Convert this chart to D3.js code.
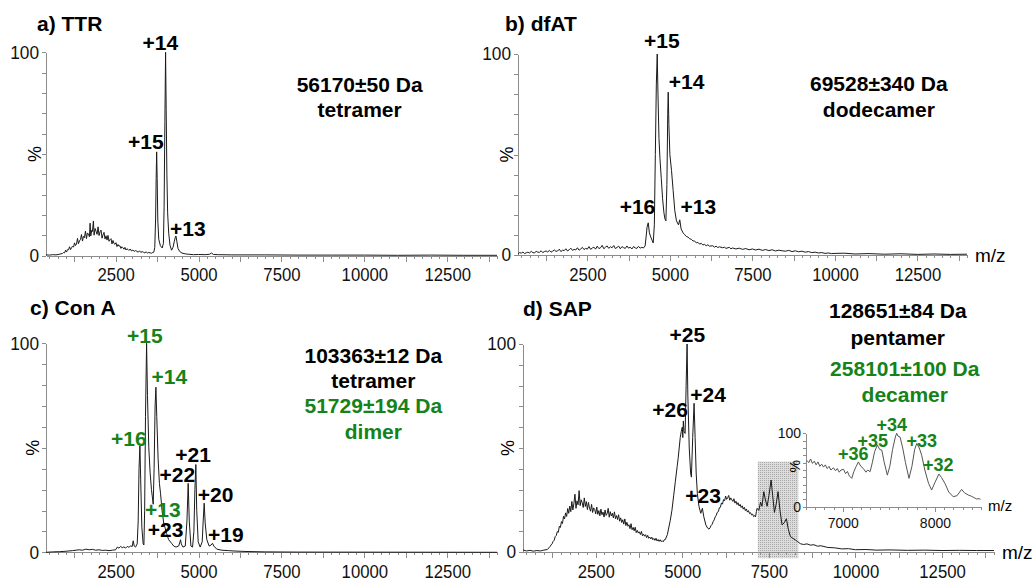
<!DOCTYPE html>
<html>
<head>
<meta charset="utf-8">
<script src="https://cdn.jsdelivr.net/npm/d3@7/dist/d3.min.js"></script>
<style>
body { margin: 0; background: #fff; }
svg { display: block; font-family: "Liberation Sans", Arial, sans-serif; }
.axis path, .axis line { stroke: #8c8c8c; shape-rendering: crispEdges; }
.axis text { font-size: 18px; fill: #111; }
.inset .axis text { font-size: 14px; }
.trace { fill: none; stroke: #1a1a1a; stroke-width: 1; stroke-linejoin: round; }
.lbl { font-weight: bold; font-size: 21px; text-anchor: middle; fill: #000; }
.small { font-size: 18px; }
</style>
</head>
<body>
<script>
var W = 1034, H = 582;
var green = "#15821a";

// spectra, [m/z, relative intensity %]
var ttrSpec = [[400,0.3],[500,0.2],[600,0.4],[700,0.3],[800,0.6],[900,1.0],[930,1.5],[960,1.3],[990,2.6],[1020,1.7],
  [1050,2.9],[1080,2.8],[1110,4.3],[1140,2.9],[1170,3.8],[1200,4.6],[1230,4.1],[1260,6.2],[1290,4.9],[1320,5.6],
  [1350,8.4],[1380,5.8],[1410,7.2],[1440,7.9],[1470,10.3],[1500,7.1],[1530,9.4],[1560,8.8],[1590,12.0],[1620,8.3],
  [1650,11.1],[1680,10.5],[1710,9.2],[1730,15.9],[1750,9.6],[1780,12.4],[1800,11.8],[1830,17.0],[1850,10.0],[1880,13.3],
  [1910,11.9],[1940,10.4],[1970,14.1],[2000,9.8],[2030,11.7],[2060,12.5],[2090,8.5],[2120,10.2],[2150,11.4],[2180,8.1],
  [2210,9.7],[2240,7.6],[2270,9.9],[2300,7.0],[2330,7.8],[2360,8.3],[2390,5.7],[2420,7.4],[2450,5.9],[2480,5.5],
  [2510,6.3],[2540,4.4],[2570,5.4],[2600,4.6],[2630,4.8],[2660,3.5],[2690,4.3],[2720,3.8],[2750,3.1],[2780,4.0],
  [2810,2.7],[2840,3.3],[2870,3.0],[2900,2.5],[2940,3.2],[2980,2.2],[3020,2.7],[3060,2.0],[3100,2.4],[3140,2.1],
  [3180,1.6],[3220,2.3],[3260,1.5],[3300,1.9],[3340,1.6],[3380,1.3],[3420,1.8],[3460,1.2],[3500,1.5],[3540,1.3],
  [3580,1.1],[3620,1.5],[3650,1.6],[3680,4],[3705,18],[3722,38],[3737,51],[3752,38],[3772,17],[3800,8],
  [3850,4.8],[3905,3.7],[3940,6],[3962,24],[3985,66],[4006,100],[4024,72],[4045,40],[4068,21],[4100,11],
  [4140,5],[4187,2.6],[4230,4],[4270,7],[4300,9],[4318,9.6],[4345,7],[4380,3.5],[4430,2],[4500,1.2],
  [4600,0.8],[4700,0.6],[4850,0.4],[5000,0.5],[5200,0.4],[5330,0.6],[5390,1.2],[5450,0.5],[5600,0.4],[6000,0.3],
  [7000,0.3],[8000,0.2],[9000,0.2],[10000,0.2],[11000,0.1],[12000,0.2],[13000,0.1],[14000,0.1]];

var dfatSpec = [[400,0.6],[450,1.2],[500,0.9],[550,1.5],[600,0.7],[650,1.1],[700,1.4],[750,1.0],[800,1.8],[850,1.2],
  [900,1.0],[950,1.9],[1000,1.4],[1050,1.3],[1100,2.1],[1150,1.2],[1200,1.7],[1250,2.0],[1300,1.5],[1350,2.3],
  [1400,1.4],[1450,1.9],[1500,2.5],[1550,1.8],[1600,2.0],[1650,2.9],[1700,1.7],[1750,2.4],[1800,2.2],[1850,3.1],
  [1900,2.0],[1950,2.6],[2000,3.4],[2050,2.3],[2100,2.8],[2150,2.5],[2200,3.6],[2250,2.4],[2300,3.0],[2350,3.8],
  [2400,2.7],[2450,3.3],[2500,2.9],[2550,4.2],[2600,2.8],[2650,3.5],[2700,3.9],[2750,2.9],[2800,4.4],[2850,3.2],
  [2900,3.6],[2950,4.8],[3000,3.1],[3050,3.9],[3100,4.5],[3150,3.3],[3200,4.1],[3250,3.6],[3300,4.7],[3350,3.2],
  [3400,3.8],[3450,4.4],[3500,3.1],[3550,4.2],[3600,3.6],[3650,3.3],[3700,4.5],[3750,3.4],[3800,3.9],[3850,3.0],
  [3900,4.2],[3950,3.5],[4000,3.3],[4050,4.3],[4100,3.4],[4150,3.8],[4200,3.5],[4250,4.5],[4280,9],[4310,14],
  [4345,16],[4380,11],[4420,9],[4470,7],[4495,6],[4530,15],[4560,50],[4590,85],[4617,100],[4640,80],
  [4670,58],[4700,48],[4740,38],[4780,28],[4820,21],[4850,18],[4880,17],[4910,35],[4935,70],[4950,81],
  [4970,65],[5000,50],[5050,42],[5100,32],[5150,22],[5200,17],[5260,15],[5300,17.5],[5340,13],[5400,11],
  [5450,10.1],[5500,9.2],[5550,8.9],[5600,8.1],[5650,7.8],[5700,7.0],[5750,6.9],[5800,6.1],[5850,6.3],[5900,5.4],
  [5950,5.8],[6000,5.0],[6050,5.3],[6100,4.6],[6150,5.1],[6200,4.4],[6300,4.6],[6350,3.9],[6400,4.4],[6450,3.7],
  [6500,4.1],[6600,3.6],[6650,3.9],[6700,3.3],[6800,3.8],[6850,3.1],[6900,3.5],[7000,3.0],[7100,3.4],[7200,2.8],
  [7300,3.2],[7400,2.6],[7500,3.0],[7600,2.5],[7700,2.9],[7800,2.3],[7900,2.7],[8000,2.2],[8100,2.6],[8200,2.0],
  [8300,2.4],[8400,2.1],[8500,1.9],[8600,2.3],[8700,1.7],[8800,2.1],[8900,1.6],[9000,1.9],[9100,1.4],[9200,1.7],
  [9300,1.2],[9400,1.4],[9500,1.0],[9600,1.2],[9700,0.8],[9800,1.0],[9900,0.7],[10000,0.8],[10300,0.9],[10600,0.5],
  [11000,0.7],[11500,0.4],[12000,0.6],[12500,0.3],[13000,0.5],[13500,0.3],[14000,0.4]];

var conaSpec = [[400,0],[600,0.2],[800,0.3],[1000,0.5],[1200,0.8],[1400,1.2],[1500,1.0],[1600,1.5],[1700,1.2],[1800,1.4],
  [1900,1.0],[2000,1.2],[2100,0.9],[2200,1.0],[2300,0.8],[2400,1.0],[2500,1.2],[2550,2.5],[2600,2.0],[2650,2.8],
  [2700,2.2],[2750,2.6],[2800,2.0],[2850,2.8],[2900,2.4],[2950,3.0],[3000,2.8],[3030,5.5],[3060,3],[3100,2.5],
  [3150,4],[3180,15],[3205,40],[3232,51],[3255,35],[3290,12],[3330,4],[3352,3.5],[3375,20],[3400,65],
  [3433,100],[3460,75],[3500,50],[3540,38],[3580,30],[3633,23],[3660,40],[3690,70],[3714,79],[3740,65],
  [3780,45],[3820,33],[3855,28],[3900,20],[3950,14],[3985,12],[4036,9],[4100,6],[4187,4.3],[4250,3],
  [4320,2.5],[4400,3],[4440,5],[4457,6],[4480,4],[4530,2.5],[4600,3],[4650,15],[4688,33],[4720,15],
  [4770,3],[4820,2.5],[4860,10],[4890,30],[4919,42],[4945,20],[4990,5],[5050,2.5],[5110,5],[5140,15],
  [5170,23.5],[5200,14],[5250,6],[5320,3],[5380,3.5],[5421,4.3],[5460,3],[5550,1.5],[5700,1.0],[5900,0.8],
  [6100,0.6],[6400,0.4],[7000,0.2],[8000,0.1],[14000,0]];

var sapSpec = [[400,1],[500,0.5],[600,0.8],[700,0.4],[800,0.7],[900,0.5],[1000,0.9],[1100,1.2],[1150,2.0],[1180,2.6],
  [1210,3.4],[1240,3.9],[1270,5.1],[1300,5.6],[1330,7.4],[1360,7.9],[1390,9.8],[1420,9.5],[1450,12.4],[1480,11.8],
  [1510,14.6],[1540,13.7],[1570,17.2],[1600,15.9],[1630,18.8],[1660,17.1],[1690,20.9],[1720,18.6],[1750,22.1],[1780,19.4],
  [1810,24.3],[1840,20.2],[1870,23.4],[1900,27.8],[1930,21.0],[1960,24.6],[1990,22.7],[2020,29.5],[2050,22.3],[2080,25.1],
  [2110,23.6],[2140,21.4],[2170,26.0],[2200,21.9],[2230,24.2],[2260,20.4],[2290,23.8],[2320,21.1],[2350,19.6],[2380,22.9],
  [2410,19.0],[2440,21.2],[2470,20.4],[2500,18.3],[2530,21.6],[2560,18.1],[2590,19.9],[2620,17.4],[2650,20.6],[2680,17.9],
  [2710,19.2],[2740,16.8],[2770,20.2],[2800,17.6],[2830,18.5],[2860,21.0],[2890,16.7],[2920,19.4],[2950,17.3],[2980,18.6],
  [3010,16.4],[3040,19.3],[3070,16.0],[3100,17.5],[3130,15.6],[3160,17.9],[3190,14.8],[3220,16.4],[3250,14.2],[3280,15.5],
  [3310,13.4],[3340,15.9],[3370,12.7],[3400,14.3],[3430,12.4],[3460,13.1],[3490,11.2],[3520,13.6],[3550,10.7],[3580,11.8],
  [3610,10.2],[3640,11.9],[3670,9.3],[3700,10.4],[3730,9.1],[3760,9.7],[3790,8.4],[3820,9.9],[3850,7.8],[3880,8.6],
  [3910,7.6],[3940,8.3],[3970,6.9],[4000,8.0],[4030,6.6],[4060,7.2],[4090,6.3],[4120,7.1],[4150,5.9],[4180,6.5],
  [4210,5.6],[4240,6.6],[4270,5.3],[4300,6.0],[4330,5.1],[4360,5.9],[4390,5.0],[4420,5.4],[4450,4.9],[4480,5.9],
  [4510,6.0],[4540,7.2],[4570,8.4],[4600,11],[4650,15],[4700,20],[4750,27],[4800,34],[4850,41],[4880,45],
  [4910,50],[4940,55],[4970,58],[5000,60],[5015,55],[5030,63],[5050,58],[5081,57],[5110,80],[5138,100],
  [5160,75],[5200,50],[5240,38],[5262,36],[5300,55],[5340,71.5],[5370,55],[5400,38],[5435,28],[5480,22],
  [5533,18.6],[5580,21],[5620,17],[5680,13],[5730,11.5],[5771,11],[5800,11.6],[5830,12.7],[5860,13.3],[5890,14.6],
  [5920,15.4],[5950,16.9],[5980,17.6],[6010,19.1],[6040,19.4],[6070,21.3],[6100,21.5],[6130,23.6],[6160,23.0],[6190,25.2],
  [6220,24.6],[6251,26.9],[6280,25.3],[6310,26.1],[6340,27.2],[6370,24.9],[6400,26.0],[6430,25.1],[6460,24.3],[6490,25.6],
  [6520,23.5],[6550,24.4],[6580,22.8],[6610,23.7],[6640,22.1],[6670,22.9],[6700,21.4],[6730,22.2],[6760,20.6],[6790,21.5],
  [6820,19.9],[6850,20.7],[6880,19.2],[6910,19.9],[6940,18.5],[6970,18.9],[7000,17.8],[7030,18.2],[7060,17.0],[7090,17.5],
  [7114,16.9],[7140,19.5],[7160,21],[7210,20],[7260,24],[7300,22],[7353,29],[7400,25],[7449,22],[7500,27],
  [7564,34.6],[7610,27],[7660,19],[7710,23],[7765,29],[7820,20],[7880,13],[7940,14],[8006,16],[8060,11],
  [8121,7.4],[8200,6.5],[8265,5.8],[8330,5],[8409,4],[8500,3.6],[8600,3.9],[8700,3.3],[8800,3.5],[8900,2.8],
  [9000,3.0],[9200,2.2],[9400,2.0],[9600,1.5],[9800,1.6],[10000,1.1],[10300,1.2],[10600,0.9],[11000,1.0],[11500,0.8],
  [12000,0.9],[12500,0.7],[13000,0.8],[13500,0.7],[14000,0.7]];

// zoomed decamer region of SAP
var sapZoomSpec = [[6610,63],[6630,60],[6650,65],[6670,59],[6690,62],[6710,57],[6730,61],[6750,55],[6770,58],[6790,54],
  [6810,57],[6830,52],[6850,55],[6870,50],[6898,53],[6920,49],[6940,52],[6960,47],[6980,50],[7007,51],
  [7030,45],[7050,48],[7070,42],[7097,38.6],[7120,48],[7145,55],[7169,61],[7195,55],[7223,52],[7250,47],
  [7270,50],[7296,47.7],[7320,60],[7345,75],[7375,84],[7400,78],[7423,77],[7450,60],[7483,43],[7510,55],
  [7540,78],[7570,95],[7585,100],[7600,96],[7621,95],[7650,80],[7680,60],[7718,38.6],[7750,55],[7780,78],
  [7802,86],[7830,80],[7856,70],[7890,50],[7930,32],[7964,22.7],[8000,33],[8043,44.5],[8070,40],[8108,31.8],
  [8150,20],[8198,13.6],[8240,15],[8289,23.6],[8320,19],[8361,16],[8400,14],[8430,12],[8452,10.5],[8480,11],
  [8495,10]];
var zoomWindow = [7180, 8350];

// axis ticks
var mzMajor = [2500, 5000, 7500, 10000, 12500];
var zoomMajor = [7000, 8000];

// labels: [text, m/z, %, green]
var ttrLabels = [["+14",3849,101.1,0],["+15",3413,52.4,0],["+13",4678,9.7,0],
  ["56170\u00b150 Da",9858,80.5,0],["tetramer",9858,68.2,0]];
var dfatLabels = [["+15",4758,102.8,0],["+14",5505,82.4,0],["+16",4018,20.2,0],["+13",5862,20.2,0],
  ["69528\u00b1340 Da",11330,81.6,0],["dodecamer",11330,68.7,0]];
var conaLabels = [["+15",3382,100,1],["+14",4120,80.4,1],["+16",2900,50.9,1],["+21",4837,43.3,0],
  ["+22",4361,33.8,0],["+20",5515,24.2,0],["+13",3925,17,1],["+23",4009,7.2,0],["+19",5822,4.8,0],
  ["103363\u00b112 Da",10271,90.7,0],["tetramer",10271,78.8,0],["51729\u00b1194 Da",10271,66.5,1],["dimer",10271,54.2,1]];
var sapLabels = [["+25",5147,101.1,0],["+24",5742,72.3,0],["+26",4649,65,0],["+23",5599,23.4,0],
  ["128651\u00b184 Da",11222,112.5,0],["pentamer",11222,99.5,0],["258101\u00b1100 Da",11424,84.6,1],["decamer",11424,72.3,1]];
var sapZoomLabels = [["+36",7112,63.6,1],["+35",7325,81.7,1],["+34",7531,103.5,1],["+33",7856,81.7,1],["+32",8036,49,1]];

var svg = d3.select("body").append("svg")
    .attr("width", W)
    .attr("height", H);

svg.append("rect").attr("width", W).attr("height", H).attr("fill", "#fff");

// halftone fill for the zoom window
var pat = svg.append("defs").append("pattern")
    .attr("id", "dots")
    .attr("width", 2).attr("height", 2)
    .attr("patternUnits", "userSpaceOnUse");
pat.append("rect").attr("width", 2).attr("height", 2).attr("fill", "#dcdcdc");
pat.append("rect").attr("width", 1).attr("height", 1).attr("fill", "#a9a9a9");

var panels = [
  {spec: ttrSpec, labels: ttrLabels, title: "a) TTR", tx: 37, ty: 31, x0: 46, x1: 497, y0: 255.5, y1: 52.3, px: 35, mz: false},
  {spec: dfatSpec, labels: dfatLabels, title: "b) dfAT", tx: 505, ty: 31, x0: 518, x1: 967, y0: 255, y1: 54, px: 507, mz: true},
  {spec: conaSpec, labels: conaLabels, title: "c) Con A", tx: 30, ty: 315, x0: 46, x1: 497, y0: 552.3, y1: 343.3, px: 33, mz: false},
  {spec: sapSpec, labels: sapLabels, title: "d) SAP", tx: 523, ty: 316, x0: 523, x1: 994, y0: 552, y1: 344, px: 508, mz: true, zoom: true}
];

// squeeze the tick numbers a little, the original font is narrow
function narrow(sel, w) {
  sel.selectAll(".tick text")
      .filter(function() { return this.textContent !== ""; })
      .attr("textLength", function() { return this.textContent.length * w; })
      .attr("lengthAdjust", "spacingAndGlyphs");
}

panels.forEach(function(p) {
  var x = d3.scaleLinear().domain([400, 14000]).range([p.x0, p.x1]);
  var y = d3.scaleLinear().domain([0, 100]).range([p.y0, p.y1]);
  var g = svg.append("g");

  // shaded window that is blown up in the inset
  if (p.zoom) {
    g.append("rect")
        .attr("x", x(zoomWindow[0]))
        .attr("width", x(zoomWindow[1]) - x(zoomWindow[0]))
        .attr("y", y(43.5))
        .attr("height", y(-3) - y(43.5))
        .attr("fill", "url(#dots)");
  }

  // x axis: minor, medium and labelled ticks
  g.append("g").attr("class", "axis")
      .attr("transform", "translate(0," + p.y0 + ")")
      .call(d3.axisBottom(x).tickValues(d3.range(500, 14001, 250)).tickSize(3).tickSizeOuter(0).tickFormat(""));
  g.append("g").attr("class", "axis")
      .attr("transform", "translate(0," + p.y0 + ")")
      .call(d3.axisBottom(x).tickValues(d3.range(1250, 14000, 1250)).tickSize(6).tickSizeOuter(0).tickFormat(""));
  g.append("g").attr("class", "axis")
      .attr("transform", "translate(0," + p.y0 + ")")
      .call(d3.axisBottom(x).tickValues(mzMajor).tickSize(6).tickSizeOuter(0).tickPadding(7).tickFormat(d3.format("d")))
      .call(narrow, 9.3);

  // y axis
  g.append("g").attr("class", "axis")
      .attr("transform", "translate(" + p.x0 + ",0)")
      .call(d3.axisLeft(y).tickValues(d3.range(0, 101, 10)).tickSize(4).tickSizeOuter(0).tickPadding(3)
        .tickFormat(function(d) { return (d === 0 || d === 100) ? d : ""; }))
      .call(narrow, 9.6);

  g.append("text")
      .attr("transform", "translate(" + p.px + "," + ((p.y0 + p.y1) / 2) + ") rotate(-90)")
      .attr("text-anchor", "middle")
      .attr("dy", "0.35em")
      .style("font-size", "18px")
      .text("%");

  if (p.mz) {
    g.append("text")
        .attr("x", p.x1 + 8)
        .attr("y", p.y0)
        .attr("dy", "0.35em")
        .style("font-size", "19px")
        .text("m/z");
  }

  var line = d3.line()
      .x(function(d) { return x(d[0]); })
      .y(function(d) { return y(d[1]); });

  g.append("path")
      .datum(p.spec)
      .attr("class", "trace")
      .attr("d", line);

  g.append("text")
      .attr("class", "lbl")
      .attr("x", p.tx)
      .attr("y", p.ty)
      .style("text-anchor", "start")
      .text(p.title);

  g.selectAll(".peak")
      .data(p.labels)
    .enter().append("text")
      .attr("class", "lbl")
      .attr("x", function(d) { return x(d[1]); })
      .attr("y", function(d) { return y(d[2]); })
      .style("fill", function(d) { return d[3] ? green : "#000"; })
      .text(function(d) { return d[0]; });
});

// inset with the decamer charge states
var ix = d3.scaleLinear().domain([6600, 8500]).range([806, 981]);
var iy = d3.scaleLinear().domain([0, 100]).range([506.7, 433.3]);
var inset = svg.append("g").attr("class", "inset");

inset.append("g").attr("class", "axis")
    .attr("transform", "translate(0," + iy(0) + ")")
    .call(d3.axisBottom(ix).tickValues(d3.range(6600, 8501, 100)).tickSize(3).tickSizeOuter(0).tickFormat(""));
inset.append("g").attr("class", "axis")
    .attr("transform", "translate(0," + iy(0) + ")")
    .call(d3.axisBottom(ix).tickValues(zoomMajor).tickSize(5).tickSizeOuter(0).tickPadding(6).tickFormat(d3.format("d")));
inset.append("g").attr("class", "axis")
    .attr("transform", "translate(" + ix(6600) + ",0)")
    .call(d3.axisLeft(iy).tickValues(d3.range(0, 101, 10)).tickSize(3).tickSizeOuter(0).tickPadding(2)
      .tickFormat(function(d) { return (d === 0 || d === 100) ? d : ""; }));

inset.append("text")
    .attr("transform", "translate(795," + iy(55) + ") rotate(-90)")
    .attr("text-anchor", "middle")
    .attr("dy", "0.35em")
    .style("font-size", "14px")
    .text("%");

inset.append("text")
    .attr("x", ix(8500) + 7)
    .attr("y", iy(0))
    .attr("dy", "0.3em")
    .style("font-size", "15px")
    .text("m/z");

inset.append("path")
    .datum(sapZoomSpec)
    .attr("class", "trace")
    .style("stroke", "#555")
    .attr("d", d3.line()
      .x(function(d) { return ix(d[0]); })
      .y(function(d) { return iy(d[1]); }));

inset.selectAll(".peak")
    .data(sapZoomLabels)
  .enter().append("text")
    .attr("class", "lbl small")
    .attr("x", function(d) { return ix(d[1]); })
    .attr("y", function(d) { return iy(d[2]); })
    .style("fill", green)
    .text(function(d) { return d[0]; });
</script>
</body>
</html>
